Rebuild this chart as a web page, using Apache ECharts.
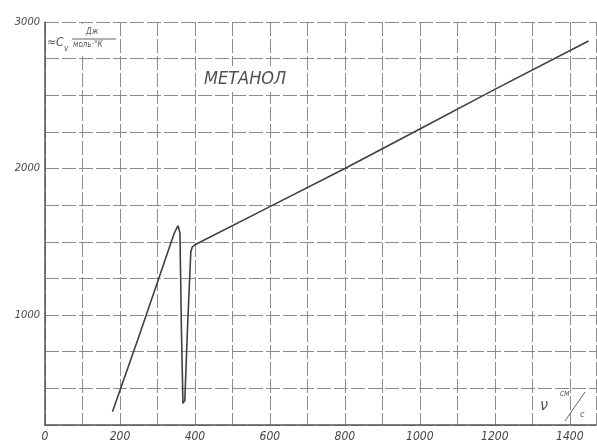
<!DOCTYPE html>
<html>
<head>
<meta charset="utf-8">
<script src="https://cdn.jsdelivr.net/npm/echarts@6/dist/echarts.min.js"></script>
<style>html,body{margin:0;padding:0;background:#fff;}#c{width:597px;height:446px;}</style>
</head>
<body>
<div id="c"></div>
<script>
// Velocity (cm/s) and Cv values
const velocity = [180, 250, 345, 355, 360, 364, 368, 373, 380, 389, 393, 400, 600, 800, 1000, 1200, 1450];
const cvValues = [340, 850, 1560, 1610, 1560, 900, 397, 418, 900, 1432, 1465, 1480, 1740, 2000, 2270, 2540, 2870];
const xTicks = [0, 200, 400, 600, 800, 1000, 1200, 1400];
const yTickLabels = [1000, 2000, 3000];
const titleText = 'МЕТАНОЛ';

const hand = "'Liberation Sans Narrow','DejaVu Sans Condensed','Liberation Sans',sans-serif";
const chart = echarts.init(document.getElementById('c'));
chart.setOption({
  backgroundColor: '#fff',
  animation: false,
  grid: {left: 45, top: 22, right: 1, bottom: 21, containLabel: false},
  xAxis: {
    type: 'value', min: 0, max: 1470, interval: 100,
    axisLine: {show: true, lineStyle: {color: '#555', width: 1.5}},
    axisTick: {show: false},
    axisLabel: {
      color: '#444', fontFamily: hand, fontStyle: 'italic', fontSize: 12, margin: 6,
      showMaxLabel: false,
      formatter: v => xTicks.includes(v) ? String(v) : ''
    },
    splitLine: {show: true, lineStyle: {color: '#8c8c8c', width: 1, type: [14, 3]}}
  },
  yAxis: {
    type: 'value', min: 250, max: 3000, interval: 250,
    axisLine: {show: true, lineStyle: {color: '#555', width: 1.5}},
    axisTick: {show: false},
    axisLabel: {
      color: '#444', fontFamily: hand, fontStyle: 'italic', fontSize: 11, margin: 5,
      formatter: v => yTickLabels.includes(v) ? String(v) : ''
    },
    splitLine: {show: true, lineStyle: {color: '#8c8c8c', width: 1, type: [14, 3]}}
  },
  graphic: [
    {type: 'rect', shape: {x: 198, y: 66, width: 108, height: 26}, style: {fill: '#fff'}, z: 5},
    {type: 'text', left: 204, top: 70, z: 6,
     style: {text: titleText, fill: '#505050', font: "italic 18px " + hand}},
    {type: 'rect', shape: {x: 47, y: 24, width: 71, height: 32}, style: {fill: '#fff'}, z: 5},
    {type: 'text', left: 47, top: 37, z: 6,
     style: {text: '≈C', fill: '#555', font: "italic 12px " + hand}},
    {type: 'text', left: 64, top: 45, z: 6,
     style: {text: 'v', fill: '#555', font: "italic 8px " + hand}},
    {type: 'text', left: 86, top: 28, z: 6,
     style: {text: 'Дж', fill: '#555', font: "italic 8px " + hand}},
    {type: 'line', shape: {x1: 72, y1: 39, x2: 116, y2: 39}, style: {stroke: '#666', lineWidth: 1}, z: 6},
    {type: 'text', left: 73, top: 41, z: 6,
     style: {text: 'моль·°К', fill: '#555', font: "italic 8px " + hand}},
    {type: 'text', left: 540, top: 398, z: 6,
     style: {text: 'ν', fill: '#555', font: "italic 16px " + hand}},
    {type: 'text', left: 560, top: 390, z: 6,
     style: {text: 'см', fill: '#555', font: "italic 8px " + hand}},
    {type: 'line', shape: {x1: 565, y1: 421, x2: 585, y2: 392}, style: {stroke: '#666', lineWidth: 1}, z: 6},
    {type: 'text', left: 580, top: 410, z: 6,
     style: {text: 'с', fill: '#555', font: "italic 9px " + hand}}
  ],
  series: [{
    type: 'line',
    data: velocity.map((v, i) => [v, cvValues[i]]),
    showSymbol: false,
    smooth: false,
    lineStyle: {color: '#404040', width: 1.6},
    z: 4
  }]
});
</script>
</body>
</html>
